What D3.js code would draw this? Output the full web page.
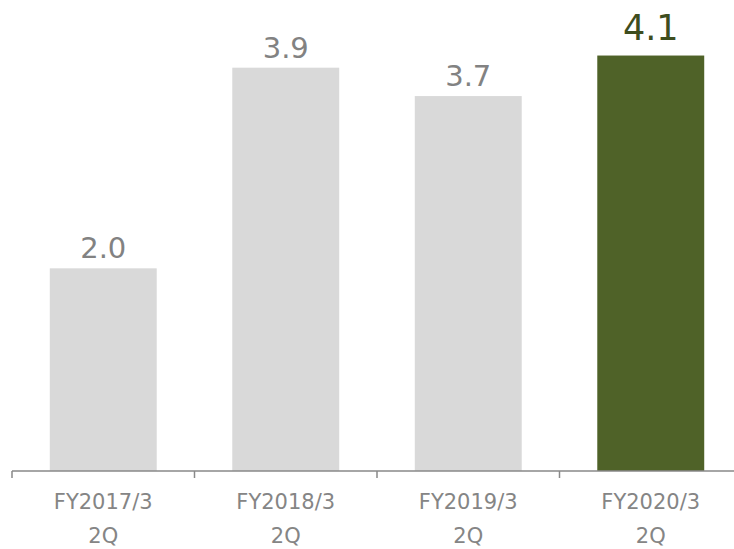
<!DOCTYPE html>
<html lang="ja">
  <head>
    <meta charset="UTF-8" />
    <title>FY 2Q chart</title>
    <style>
      body {
        margin: 0;
        background: #ffffff;
      }
      svg {
        display: block;
        font-family: "DejaVu Sans", Verdana, sans-serif;
      }
    </style>
    <script src="https://d3js.org/d3.v7.min.js"></script>
  </head>
  <body>
    <svg id="chart"></svg>
    <script>
      const categories = ["FY2017/3", "FY2018/3", "FY2019/3", "FY2020/3"];
      const subLabels = ["2Q", "2Q", "2Q", "2Q"];
      const values = [2.0, 3.98, 3.7, 4.1];
      const valueLabels = ["2.0", "3.9", "3.7", "4.1"];
      const highlight = "FY2020/3";

      const width = 734;
      const height = 549;

      const svg = d3.select("#chart").attr("width", width).attr("height", height);

      const x = d3
        .scaleBand()
        .domain(categories)
        .range([12, 742])
        .paddingInner(0.414)
        .paddingOuter(0.207);

      const y = d3.scaleLinear().domain([0, 4.5]).range([471, 15]);

      const grey = "#d9d9d9";
      const green = "#4f6228";

      // bars
      svg
        .append("g")
        .selectAll("rect")
        .data(categories)
        .join("rect")
        .attr("x", (d) => x(d))
        .attr("width", x.bandwidth())
        .attr("y", (d, i) => y(values[i]))
        .attr("height", (d, i) => y(0) - y(values[i]))
        .attr("fill", (d) => (d === highlight ? green : grey));

      // value labels
      svg
        .append("g")
        .selectAll("text")
        .data(categories)
        .join("text")
        .attr("x", (d) => x(d) + x.bandwidth() / 2)
        .attr("y", (d, i) => y(values[i]) - (d === highlight ? 16 : 10))
        .attr("text-anchor", "middle")
        .attr("font-size", (d) => (d === highlight ? 35 : 29))
        .attr("fill", (d) => (d === highlight ? "#3e4d1e" : "#828282"))
        .text((d, i) => valueLabels[i]);

      // axis line + ticks at band boundaries
      const axis = svg.append("g").attr("stroke", "#898989").attr("stroke-width", 1.5);
      axis
        .append("line")
        .attr("x1", x.range()[0])
        .attr("x2", width)
        .attr("y1", y(0))
        .attr("y2", y(0));
      const step = x.step();
      axis
        .selectAll("line.tick")
        .data(d3.range(categories.length + 1))
        .join("line")
        .attr("class", "tick")
        .attr("x1", (i) => x.range()[0] + i * step)
        .attr("x2", (i) => x.range()[0] + i * step)
        .attr("y1", y(0))
        .attr("y2", y(0) + 7);

      // category labels
      const labels = svg
        .append("g")
        .selectAll("text")
        .data(categories)
        .join("text")
        .attr("text-anchor", "middle")
        .attr("font-size", 21)
        .attr("fill", "#858585");
      labels
        .append("tspan")
        .attr("x", (d) => x(d) + x.bandwidth() / 2)
        .attr("y", 509)
        .text((d) => d);
      labels
        .append("tspan")
        .attr("x", (d) => x(d) + x.bandwidth() / 2)
        .attr("y", 543)
        .text((d, i) => subLabels[i]);
    </script>
  </body>
</html>
